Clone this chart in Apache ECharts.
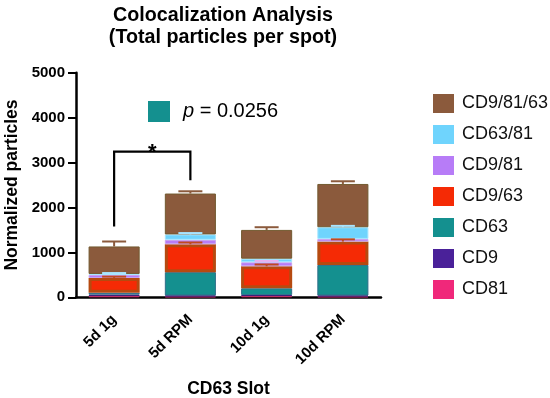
<!DOCTYPE html>
<html>
<head>
<meta charset="utf-8">
<script src="https://cdn.jsdelivr.net/npm/echarts@6/dist/echarts.min.js"></script>
<style>html,body{margin:0;padding:0;background:#fff}#c{width:550px;height:398px}</style>
</head>
<body>
<div id="c"></div>
<script>
// ---- data ----
const categories = ['5d 1g', '5d RPM', '10d 1g', '10d RPM'];
const seriesNames = ['CD81', 'CD9', 'CD63', 'CD9/63', 'CD9/81', 'CD63/81', 'CD9/81/63'];
const cd81 = [30, 20, 30, 20];
const cd9 = [30, 20, 20, 20];
const cd63 = [40, 520, 150, 680];
const cd963 = [330, 620, 490, 520];
const cd981 = [70, 100, 90, 60];
const cd6381 = [20, 120, 80, 260];
const cd98163 = [612, 910, 640, 963];
const errCD81 = [0, 0, 0, 0];
const errCD9 = [0, 0, 0, 0];
const errCD63 = [0, 0, 0, 0];
const errCD963 = [30, 40, 40, 50];
const errCD981 = [0, 0, 30, 0];
const errCD6381 = [20, 30, 0, 30];
const errCD98163 = [110, 50, 60, 60];
const yTicks = [0, 1000, 2000, 3000, 4000, 5000];
// significance bracket between 5d 1g and 5d RPM (values on y scale)
const bracketLeftY = 1574;
const bracketTopY = 3245;
const bracketRightY = 2605;
const pValueText = '0.0256';

// ---- build ----
const values = [cd81, cd9, cd63, cd963, cd981, cd6381, cd98163];
const errors = [errCD81, errCD9, errCD63, errCD963, errCD981, errCD6381, errCD98163];
const colors = ['#f0287a', '#4a2199', '#14908f', '#f52a05', '#b77cf7', '#6fd4fd', '#8b5a3c'];
const borders = ['#c0306a', '#3d1f7a', '#2f6f8a', '#b64a10', '#c9a4f0', '#a6e6ff', '#725a30'];
const capColors = ['#e06090', '#4a2199', '#14908f', '#c04a20', '#e8b0f0', '#a8e4ff', '#8b5a3c'];

const barSeries = seriesNames.map((n, i) => ({
  name: n, type: 'bar', stack: 'total', barWidth: '67%',
  data: values[i],
  itemStyle: { color: colors[i], borderColor: borders[i], borderWidth: (i === 3 ? 3 : 1) },
  z: 2
}));

const errData = [];
for (let s = 0; s < values.length; s++) {
  for (let c = 0; c < categories.length; c++) {
    let cum = 0;
    for (let k = 0; k <= s; k++) cum += values[k][c];
    if (errors[s][c] > 0) errData.push([c, cum, cum + errors[s][c], s]);
  }
}

const errSeries = {
  type: 'custom', name: 'err', z: 5, silent: true,
  data: errData,
  renderItem: (params, api) => {
    const c = api.value(0), lo = api.value(1), hi = api.value(2), s = api.value(3);
    const p0 = api.coord([c, lo]);
    const p1 = api.coord([c, hi]);
    const hw = 12;
    const col = capColors[s];
    return {
      type: 'group', children: [
        { type: 'line', shape: { x1: p0[0], y1: p0[1], x2: p1[0], y2: p1[1] }, style: { stroke: col, lineWidth: 2 } },
        { type: 'line', shape: { x1: p1[0] - hw, y1: p1[1], x2: p1[0] + hw, y2: p1[1] }, style: { stroke: col, lineWidth: 2 } }
      ]
    };
  }
};

const bracketSeries = {
  type: 'custom', name: 'bracket', z: 6, silent: true,
  data: [[0, 1, bracketLeftY, bracketTopY, bracketRightY]],
  renderItem: (params, api) => {
    const a = api.coord([api.value(0), api.value(2)]);
    const b = api.coord([api.value(0), api.value(3)]);
    const c = api.coord([api.value(1), api.value(3)]);
    const d = api.coord([api.value(1), api.value(4)]);
    return {
      type: 'group', children: [
        { type: 'polyline', shape: { points: [a, b, c, d] }, style: { stroke: '#000', lineWidth: 2.2, fill: null } },
        { type: 'text', style: { text: '*', x: (b[0] + c[0]) / 2, y: b[1] + 1, align: 'center', verticalAlign: 'middle', font: 'bold 22px "Liberation Sans", Arial, sans-serif', fill: '#000' } }
      ]
    };
  }
};

const chart = echarts.init(document.getElementById('c'), null, { renderer: 'canvas' });
chart.setOption({
  animation: false,
  backgroundColor: '#fff',
  textStyle: { fontFamily: '"Liberation Sans", Arial, Helvetica, sans-serif', color: '#000' },
  title: {
    text: 'Colocalization Analysis\n(Total particles per spot)',
    left: 218, top: 0, textAlign: 'center',
    textStyle: { fontSize: 19.7, fontWeight: 'bold', color: '#000', lineHeight: 22, fontFamily: '"Liberation Sans", Arial, sans-serif' }
  },
  legend: {
    orient: 'vertical', left: 428, top: 89,
    itemWidth: 21, itemHeight: 19, itemGap: 12,
    icon: 'rect',
    itemStyle: { borderWidth: 0 },
    data: seriesNames.slice().reverse(),
    textStyle: { fontSize: 18, color: '#111', padding: [0, 0, 0, 3] }
  },
  grid: { left: 76, right: 169, top: 72.7, bottom: 100.7, containLabel: false, outerBoundsMode: 'none' },
  xAxis: {
    type: 'category', data: categories,
    name: 'CD63 Slot', nameLocation: 'middle', nameGap: 83,
    nameTextStyle: { fontSize: 17.5, fontWeight: 'bold', color: '#000' },
    axisLine: { lineStyle: { color: '#000', width: 2.5 } },
    axisTick: { alignWithLabel: true, length: 6, lineStyle: { color: '#000', width: 2 } },
    axisLabel: { rotate: 45, fontSize: 15, fontWeight: 'bold', color: '#000', margin: 20 }
  },
  yAxis: {
    type: 'value', min: yTicks[0], max: yTicks[yTicks.length - 1], interval: yTicks[1] - yTicks[0],
    name: 'Normalized particles', nameLocation: 'middle', nameGap: 45, nameRotate: 90,
    nameTextStyle: { fontSize: 17.5, fontWeight: 'bold', color: '#000' },
    axisLine: { show: true, lineStyle: { color: '#000', width: 2.5 } },
    axisTick: { show: true, length: 8, lineStyle: { color: '#000', width: 2 } },
    axisLabel: { fontSize: 15, fontWeight: 'bold', color: '#000', margin: 11, formatter: v => String(v) },
    splitLine: { show: false }
  },
  graphic: [
    { type: 'rect', left: 148, top: 101, shape: { width: 22, height: 21 }, style: { fill: '#14908f' } },
    { type: 'text', left: 183, top: 101, style: {
        text: '{i|p} = ' + pValueText,
        font: '20px "Liberation Sans", Arial, sans-serif', fill: '#000',
        rich: { i: { fontStyle: 'italic', fontSize: 20, fontFamily: '"Liberation Sans", Arial, sans-serif' } }
      } }
  ],
  series: barSeries.concat([errSeries, bracketSeries])
});
</script>
</body>
</html>
